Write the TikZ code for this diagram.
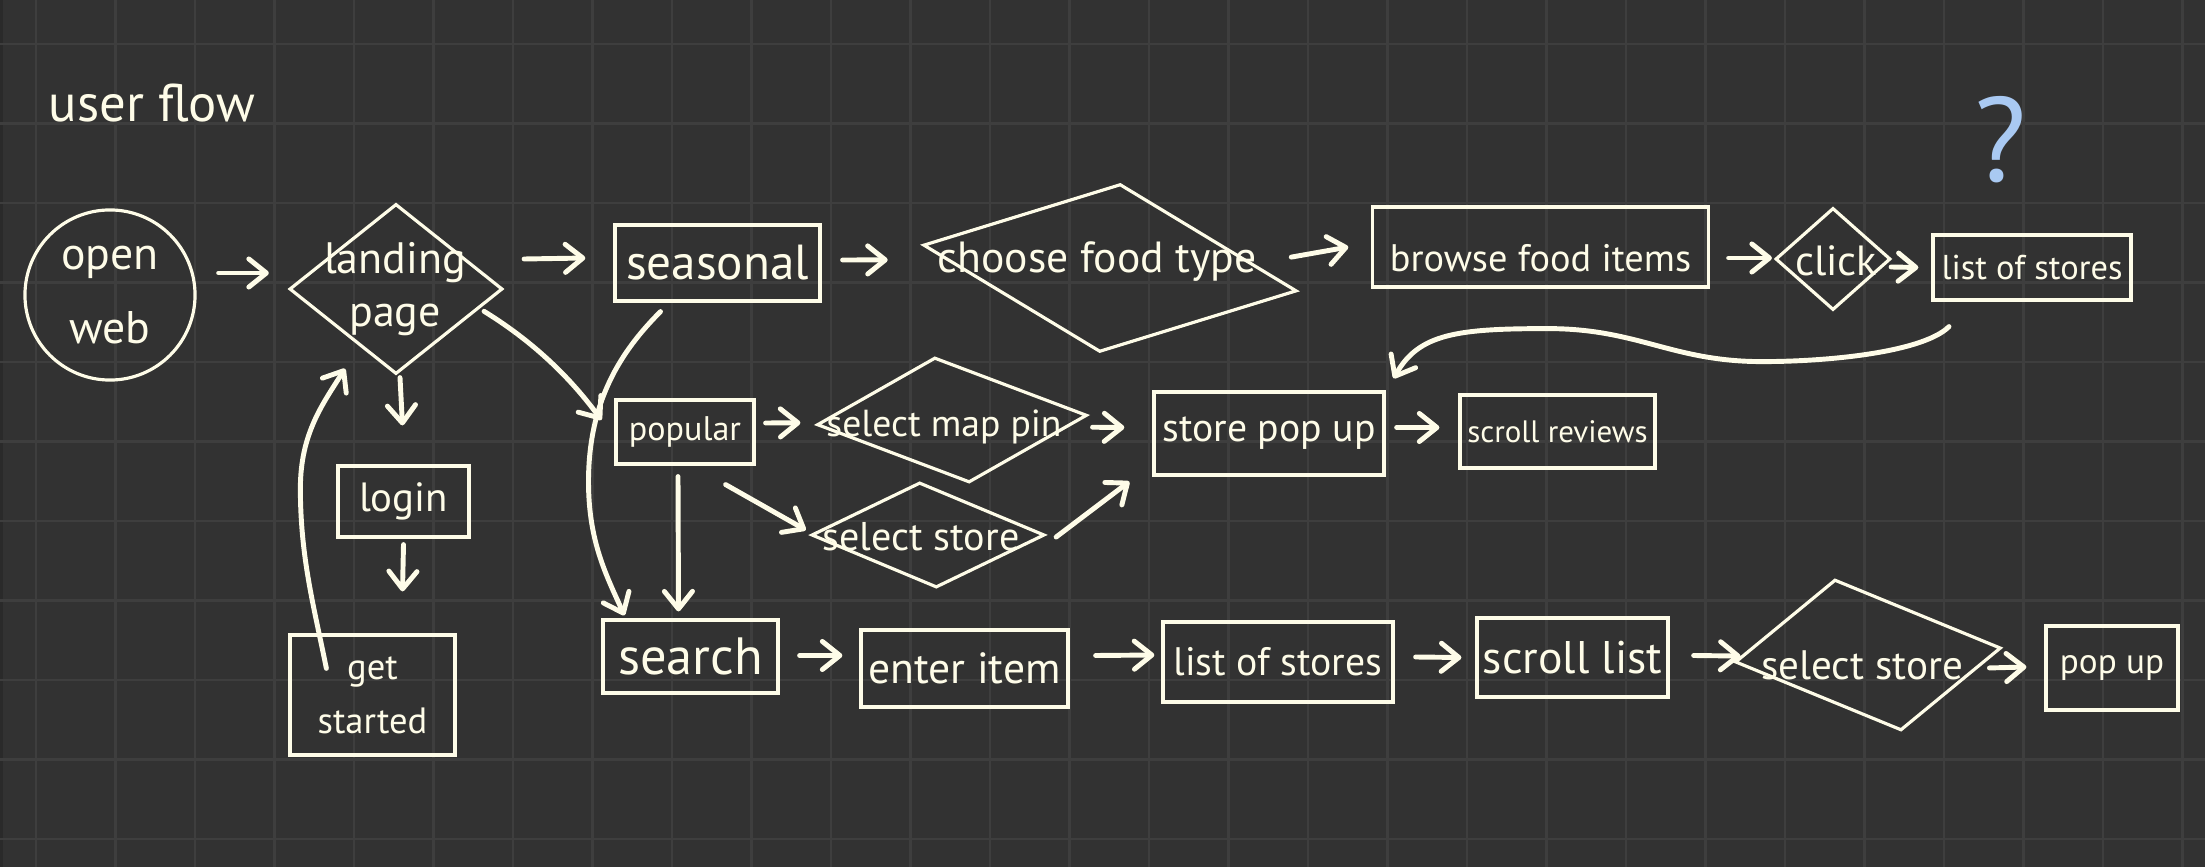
\documentclass[tikz,border=0pt]{standalone}
\usepackage{fontspec}
\setmainfont{PT Sans}
\usepackage{tikz}
\usetikzlibrary{calc,shapes.geometric,arrows.meta}
\definecolor{board}{HTML}{323232}
\definecolor{gridc}{HTML}{3E3E3E}
\definecolor{edge}{HTML}{2A2A2A}
\definecolor{chalk}{HTML}{FEFCE8}
\definecolor{qblue}{HTML}{A9C9F2}
\tikzset{
  ink/.style={draw=chalk, line width=0.9pt},
  box/.style={ink, rectangle, inner sep=0pt},
  dia/.style={ink, diamond, inner sep=0pt},
  lbl/.style={text=chalk, font=\fontsize{#1}{#1}\selectfont, inner sep=0pt},
  lbl/.default=12,
  gridline/.style={draw=gridc, line width=0.6pt},
  arr/.style={draw=chalk, line width=1.4pt, line cap=round,
    -{Straight Barb[round, length=5pt, width=8pt]}},
}

\begin{document}
\begin{tikzpicture}[x=0.01cm, y=-0.01cm]
  % board and grid
  \fill[board] (0,0) rectangle (2205,867);
  \fill[edge] (0,0) rectangle (3,867);
  \useasboundingbox (0,0) rectangle (2205,867);
  \begin{scope}
    \clip (0,0) rectangle (2205,867);
    \foreach \k in {0,...,27} \draw[gridline] ({36+79.5*\k},0) -- ({36+79.5*\k},867);
    \foreach \k in {0,...,10} \draw[gridline] (0,{44+79.5*\k}) -- (2205,{44+79.5*\k});
  \end{scope}

  \node[lbl=15] (title) at (152,103) {user flow};
  \node[text=qblue, font=\fontsize{34}{34}\selectfont, inner sep=0pt] (qmark) at (2001,140) {?};

  % left column
  \node[ink, circle, minimum size=1.7cm, inner sep=0pt, lbl=13, align=center] (open) at (110,295) {open\\[8pt]web};
  \node[dia, minimum width=2.13cm, minimum height=1.70cm] (landing) at (396,289) {};
  \node[lbl=12.5, align=center] (landingt) at (395,289) {landing\\[2.5pt]page};
  \node[box, lbl=11.6, minimum width=1.31cm, minimum height=0.71cm] (login) at (403.5,501.5) {login};
  \node[box, lbl=10.4, align=center, minimum width=1.65cm, minimum height=1.20cm] (started) at (372.5,695) {get\\[5pt]started};

  % top row
  \node[box, lbl=14, minimum width=2.05cm, minimum height=0.76cm] (seasonal) at (717.5,263) {seasonal};
  \node[dia, rotate=-7, minimum width=3.76cm, minimum height=1.69cm] (choose) at (1110,268) {};
  \node[lbl=12.4] (chooset) at (1097,262) {choose food type};
  \node[box, lbl=10.9, text height=14pt, text depth=0pt, minimum width=3.35cm, minimum height=0.80cm] (browse) at (1540.5,247) {browse food items};
  \node[dia, minimum width=1.15cm, minimum height=1.02cm] (click) at (1833,259) {};
  \node[lbl=12] (clickt) at (1836,261) {click};
  \node[box, lbl=9.8, minimum width=1.98cm, minimum height=0.65cm] (listtop) at (2032,267.5) {list of stores};

  % middle row
  \node[box, lbl=9.7, minimum width=1.38cm, minimum height=0.64cm] (popular) at (685,432) {popular};
  \node[dia, rotate=2, xslant=-0.24, minimum width=2.70cm, minimum height=1.26cm] (mappin) at (952,420) {};
  \node[lbl=10.7] (mappint) at (944,427) {select map pin};
  \node[dia, xslant=-0.16, minimum width=2.33cm, minimum height=1.05cm] (storemid) at (928,535) {};
  \node[lbl=11.4] (storemidt) at (921,537) {select store};
  \node[box, lbl=11.3, minimum width=2.30cm, minimum height=0.83cm] (storepop) at (1269,433.5) {store pop up};
  \node[box, lbl=8.8, minimum width=1.95cm, minimum height=0.73cm] (review) at (1557.5,431.5) {scroll reviews};

  % bottom row
  \node[box, lbl=14.9, minimum width=1.75cm, minimum height=0.73cm] (search) at (690.5,656.5) {search};
  \node[box, lbl=12.4, minimum width=2.07cm, minimum height=0.77cm] (enter) at (964.5,668.5) {enter item};
  \node[box, lbl=11.3, minimum width=2.30cm, minimum height=0.80cm] (listbot) at (1278,662) {list of stores};
  \node[box, lbl=13, minimum width=1.91cm, minimum height=0.79cm] (scroll) at (1572.5,657.5) {scroll list};
  \node[dia, rotate=3, xslant=-0.38, minimum width=2.66cm, minimum height=1.54cm] (storebot) at (1868,655) {};
  \node[lbl=11.7] (storebott) at (1862,665) {select store};
  \node[box, lbl=10, minimum width=1.32cm, minimum height=0.84cm] (popup) at (2112,668) {pop up};

  % connectors
  \draw[arr] ($(open.east)+(22,-22)$) -- ($(landing.west)+(-19,-16)$);
  \draw[arr] ($(landing.east)+(20,-30)$) -- ($(seasonal.west)+(-28,-5)$);
  \draw[arr] ($(seasonal.east)+(21,-3)$) -- ($(choose.west)+(-34,15)$);
  \draw[arr] ($(choose.east)+(-7,-34)$) -- ($(browse.west)+(-23,0)$);
  \draw[arr] ($(browse.east)+(19,11)$) -- ($(click.west)+(-2,-1)$);
  \draw[arr] ($(click.east)+(-1,8)$) -- ($(listtop.west)+(-13,0)$);
  \draw[arr] ($(listtop.south)+(-83,25)$) .. controls +(-25,25) and +(70,0) .. ++(-187,35)
    .. controls +(-90,0) and +(90,0) .. ++(-214,-33)
    .. controls +(-90,0) and +(25,-45) .. ($(storepop.north east)+(8,-12)$);
  \draw[arr] ($(storepop.east)+(11,-6)$) -- ($(review.west)+(-19,-4)$);

  \draw[arr] ($(landing.south east)+(34,-21)$) .. controls +(47,29) and +(-33,-45) .. ($(popular.west)+(-13,-12)$);
  \draw[arr] ($(seasonal.south)+(-57,9)$) .. controls +(-40,40) and +(0,-80) .. ++(-72,170)
    .. controls +(0,60) and +(-18,-40) .. ($(search.north west)+(23,-3)$);
  \draw[arr] ($(popular.south)+(-7,11)$) -- ($(search.north)+(-12,-7)$);
  \draw[arr] ($(popular.east)+(10,-9)$) -- ($(mappin.west)+(-15,-2)$);
  \draw[arr] ($(mappin.east)+(4,12)$) -- ($(storepop.west)+(-28,-6)$);
  \draw[arr] ($(popular.south east)+(-30,19)$) -- ($(storemid.west)+(-4,-5)$);
  \draw[arr] ($(storemid.east)+(10,2)$) -- ($(storepop.south west)+(-23,5)$);

  \draw[arr] ($(search.east)+(20,-1)$) -- ($(enter.west)+(-17,-13)$);
  \draw[arr] ($(enter.east)+(26,-13)$) -- ($(listbot.west)+(-7,-7)$);
  \draw[arr] ($(listbot.east)+(21,-5)$) -- ($(scroll.west)+(-14,0)$);
  \draw[arr] ($(scroll.east)+(24,-2)$) -- ($(storebot.west)+(7,-6)$);
  \draw[arr] ($(storebot.east)+(-13,20)$) -- ($(popup.west)+(-18,-1)$);

  \draw[arr] ($(landing.south)+(4,2)$) -- ($(login.north)+(-1,-39)$);
  \draw[arr] ($(login.south)+(0,6)$) -- ($(started.north)+(30,-42)$);
  \draw[arr] ($(started.north west)+(38,35)$) .. controls +(-12,-60) and +(0,70) .. ++(-26,-180)
    .. controls +(0,-55) and +(-22,35) .. ($(landing.south)+(-51,-7)$);
\end{tikzpicture}
\end{document}
